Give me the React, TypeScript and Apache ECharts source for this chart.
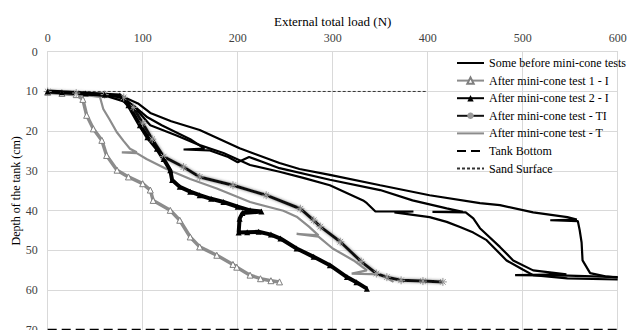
import React, { useEffect, useRef } from "react";
import * as echarts from "echarts";

// Legend / series names
const NAME_BEFORE = "Some before mini-cone tests";
const NAME_1I = "After mini-cone test 1 - I";
const NAME_2I = "After mini-cone test 2 - I";
const NAME_TI = "After mini-cone test - TI";
const NAME_T = "After mini-cone test - T";
const NAME_BOTTOM = "Tank Bottom";
const NAME_SAND = "Sand Surface";
const legendNames = [NAME_BEFORE, NAME_1I, NAME_2I, NAME_TI, NAME_T, NAME_BOTTOM, NAME_SAND];
const lineOnlyNames = [NAME_BEFORE, NAME_T, NAME_BOTTOM, NAME_SAND];

// [external total load (N), depth (cm)]
const beforeA = [
  [0, 10], [20, 10.3], [50, 10.8], [80, 11.4], [95, 13], [108, 15.4], [130, 17.5], [160, 19.7],
  [202, 24.3], [244, 28], [265, 29.5], [297, 31], [350, 33.6], [402, 36.1], [455, 38.1],
  [476, 38.6], [511, 40.4], [547, 41.6], [557, 42.2], [529, 42.4], [558, 42.6], [560, 44.9],
  [562, 48], [563, 52.5], [571, 55.7], [587, 56.5], [600, 56.8],
];
const beforeB = [
  [0, 10], [30, 10.5], [60, 11], [80, 12.5], [95, 15], [108, 18.5], [135, 21], [160, 23.5],
  [185, 25.5], [213, 28.5], [244, 30.2], [270, 31.8], [297, 33.6], [332, 37.4], [336, 38.1],
  [345, 40.2], [385, 40.2], [365, 40.4], [402, 41.6], [420, 42.8], [434, 44.1], [448, 45.5],
  [462, 47.4], [483, 52.5], [500, 54.8], [511, 56.2], [547, 57], [600, 57.3],
];
const beforeC = [
  [0, 10], [40, 10.5], [75, 11.2], [90, 13.5], [105, 16.5], [120, 18.5], [150, 22], [165, 24.4],
  [143, 24.6], [170, 24.8], [190, 26.5], [200, 27.8], [212, 26.5], [225, 27.6], [244, 29.3],
  [297, 32.2], [350, 34.8], [384, 37.4], [420, 39.4], [437, 40.3], [405, 40.3], [440, 40.4],
  [448, 41.9], [455, 44.4], [476, 49.1], [490, 52.5], [511, 55], [546, 56], [492, 56.2],
  [548, 56.3], [600, 56.7],
];
const test1I = [
  [0, 10.2], [15, 10.5], [30, 10.8], [37, 12], [41, 16], [48, 19.4], [57, 22.3], [62, 26.1],
  [73, 29.8], [85, 31.5], [100, 33.2], [108, 34.8], [111, 37.4], [129, 39.9], [139, 42.4],
  [150, 46.6], [160, 49.1], [178, 51.2], [195, 53.5], [199, 54.2], [213, 56.2], [224, 57.1],
  [235, 57.6], [244, 57.9],
];
const test2I = [
  [0, 10], [15, 10.2], [40, 10.5], [60, 10.8], [76, 11], [85, 13.5], [97, 18.5], [105, 21.5],
  [115, 24.4], [122, 27], [129, 29.8], [131, 32.3], [139, 34], [150, 35.2], [160, 36.1],
  [172, 37], [185, 37.8], [200, 39], [213, 39.9], [225, 40.2], [205, 40.6], [202, 42],
  [201, 45.5], [210, 45.4], [222, 45.3], [235, 46], [245, 47], [262, 49.5], [280, 51.6],
  [297, 53.7], [315, 56.7], [325, 58], [336, 59.6],
];
const testTI = [
  [0, 10], [30, 10.4], [60, 10.8], [80, 11.5], [90, 14], [100, 18], [110, 22], [122, 26.4],
  [143, 29], [160, 31.5], [195, 33.6], [230, 36.1], [266, 39.5], [280, 42.4], [287, 44],
  [308, 47.8], [330, 52.8], [346, 55.8], [357, 56.7], [372, 57.5], [395, 57.7], [416, 57.9],
];
const testT = [
  [0, 10], [30, 10.6], [55, 11.4], [58.5, 14.4], [65, 17], [72.6, 20.2], [80, 22.5],
  [86.6, 24.4], [93.7, 25.3], [78, 25.3], [93.7, 25.5], [104, 27], [125, 29.5], [150, 32],
  [178, 34.4], [213, 37.8], [248, 40], [262, 41.5], [275, 44], [285, 46.2], [262, 45.8],
  [285, 46.5], [300, 49.5], [322, 52.5], [336, 55], [320, 55.8], [350, 56], [364, 57.9],
];
const tankBottom = [[0, 70], [600, 70]];
const sandSurface = [[0, 10], [400, 10]];

const FONT = "'Liberation Serif', 'Times New Roman', serif";
const STAR = "path://M0,5L10,5M5,0L5,10M1.5,1.5L8.5,8.5M8.5,1.5L1.5,8.5";

export default function App() {
  const ref = useRef<HTMLDivElement>(null);
  useEffect(() => {
    if (!ref.current) return;
    const chart = echarts.init(ref.current, null, { renderer: "svg" });
    const beforeSeries = [beforeA, beforeB, beforeC].map((d) => ({
      name: NAME_BEFORE,
      type: "line",
      data: d,
      symbol: "none",
      lineStyle: { color: "#000", width: 2.2 },
      itemStyle: { color: "#000" },
      z: 3,
    }));
    chart.setOption({
      animation: false,
      textStyle: { fontFamily: FONT },
      grid: {
        left: 47.7,
        right: 13.3,
        top: 51.7,
        bottom: 0,
        containLabel: false,
        outerBoundsMode: "none",
      },
      xAxis: {
        type: "value",
        position: "top",
        min: 0,
        max: 600,
        interval: 100,
        name: "External total load (N)",
        nameLocation: "middle",
        nameGap: 24,
        nameMoveOverlap: false,
        nameTextStyle: { fontSize: 13, color: "#000", fontFamily: FONT },
        axisLine: { show: true, onZero: false, lineStyle: { color: "#d9d9d9" } },
        axisTick: { show: false },
        axisLabel: { fontSize: 12, color: "#404040", margin: 8, fontFamily: FONT },
        splitLine: { show: true, lineStyle: { color: "#d9d9d9" } },
      },
      yAxis: {
        type: "value",
        inverse: true,
        min: 0,
        max: 70,
        interval: 10,
        name: "Depth of the tank (cm)",
        nameLocation: "middle",
        nameGap: 26,
        nameMoveOverlap: false,
        nameTextStyle: { fontSize: 12, color: "#000", fontFamily: FONT },
        axisLine: { show: true, onZero: false, lineStyle: { color: "#d9d9d9" } },
        axisTick: { show: false },
        axisLabel: { fontSize: 12, color: "#404040", margin: 10, fontFamily: FONT },
        splitLine: { show: true, lineStyle: { color: "#d9d9d9" } },
      },
      legend: {
        data: legendNames.map((n) =>
          lineOnlyNames.includes(n) ? { name: n, itemStyle: { opacity: 0 } } : { name: n }
        ),
        orient: "vertical",
        left: 456,
        top: 57,
        padding: 0,
        itemWidth: 27,
        itemHeight: 8,
        itemGap: 5.6,
        textStyle: { fontSize: 12, color: "#000", fontFamily: FONT },
      },
      series: [
        {
          name: NAME_BOTTOM,
          type: "line",
          data: tankBottom,
          symbol: "none",
          lineStyle: { color: "#000", width: 2.5, type: [9, 5] },
          itemStyle: { color: "#000" },
        },
        {
          name: NAME_SAND,
          type: "line",
          data: sandSurface,
          symbol: "none",
          lineStyle: { color: "#333", width: 1, type: [3, 2] },
          itemStyle: { color: "#333" },
        },
        {
          name: NAME_1I,
          type: "line",
          data: test1I,
          symbol: "triangle",
          symbolSize: 6,
          lineStyle: { color: "#8c8c8c", width: 3.5 },
          itemStyle: { color: "#fff", borderColor: "#7f7f7f", borderWidth: 1 },
        },
        {
          name: NAME_T,
          type: "line",
          data: testT,
          symbol: "none",
          lineStyle: { color: "#8c8c8c", width: 2.2 },
          itemStyle: { color: "#8c8c8c" },
        },
        {
          name: NAME_TI,
          type: "line",
          data: testTI,
          symbol: STAR,
          symbolSize: 8,
          lineStyle: { color: "#111", width: 3, shadowColor: "rgba(120,120,120,0.9)", shadowBlur: 3 },
          itemStyle: { color: "#999", borderColor: "#999", borderWidth: 1 },
        },
        {
          name: NAME_2I,
          type: "line",
          data: test2I,
          symbol: "triangle",
          symbolSize: 6,
          lineStyle: { color: "#000", width: 4 },
          itemStyle: { color: "#000" },
        },
        ...beforeSeries,
      ],
    });
    return () => chart.dispose();
  }, []);
  return (
    <div
      ref={ref}
      style={{ position: "absolute", left: 0, top: 0, width: 631, height: 330, background: "#fff" }}
    />
  );
}
